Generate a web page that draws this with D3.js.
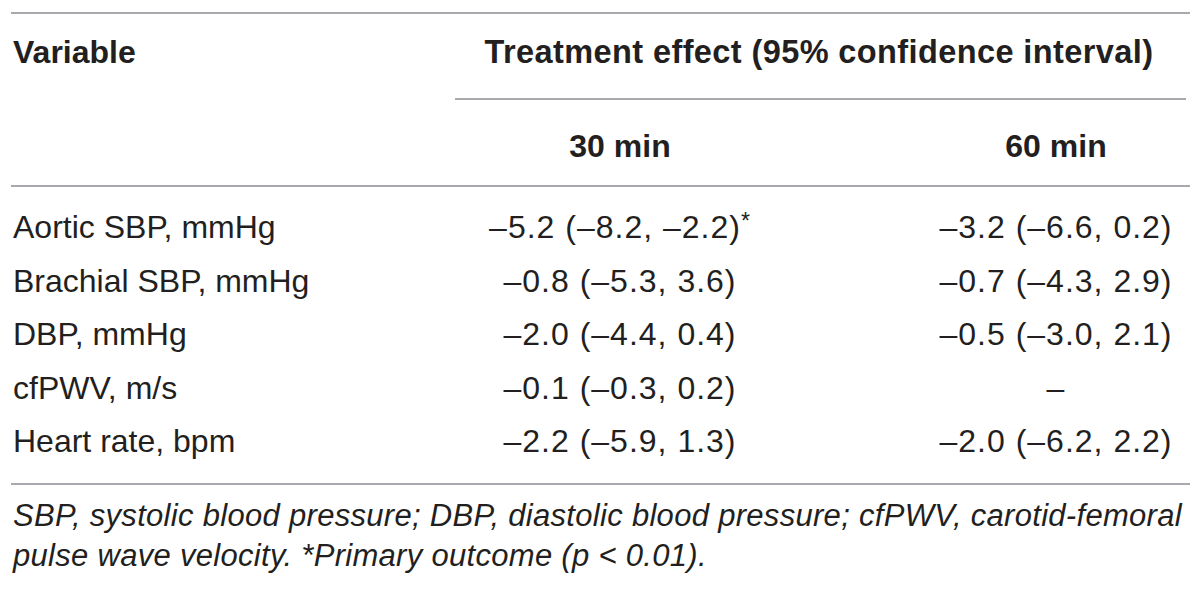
<!DOCTYPE html>
<html>
<head>
<meta charset="utf-8">
<script src="https://cdn.jsdelivr.net/npm/d3@7"></script>
<style>
  body { margin: 0; background: #fff; }
  text { font-family: "Liberation Sans", Arial, Helvetica, sans-serif; fill: #231f20; }
</style>
</head>
<body>
<div id="app"></div>
<script>
'use strict'
const width = 1200
const height = 589

// table content
const variables = ['Aortic SBP, mmHg', 'Brachial SBP, mmHg', 'DBP, mmHg', 'cfPWV, m/s', 'Heart rate, bpm']
const timepoints = ['30 min', '60 min']
const est30 = [-5.2, -0.8, -2.0, -0.1, -2.2]
const lo30 = [-8.2, -5.3, -4.4, -0.3, -5.9]
const hi30 = [-2.2, 3.6, 0.4, 0.2, 1.3]
const est60 = [-3.2, -0.7, -0.5, null, -2.0]
const lo60 = [-6.6, -4.3, -3.0, null, -6.2]
const hi60 = [0.2, 2.9, 2.1, null, 2.2]
const primary30 = [true, false, false, false, false]
const footnotes = [
  'SBP, systolic blood pressure; DBP, diastolic blood pressure; cfPWV, carotid-femoral',
  'pulse wave velocity. *Primary outcome (p < 0.01).'
]

const f = d3.format('.1f')
const num = v => f(v).replace(/[-\u2212]/g, '\u2013')
const cell = (e, l, h) => e == null ? '\u2013' : `${num(e)} (${num(l)}, ${num(h)})`

const svg = d3.select('#app').append('svg')
  .attr('width', width)
  .attr('height', height)

const x = d3.scaleOrdinal()
  .domain(['Variable', ...timepoints])
  .range([13, 620, 1056])

const y = d3.scalePoint()
  .domain(variables)
  .range([238, 452])

const lineColor = '#a7a9ac'
const hline = (x1, x2, yy) => svg.append('line')
  .attr('x1', x1).attr('x2', x2)
  .attr('y1', yy).attr('y2', yy)
  .style('stroke', lineColor)
  .style('stroke-width', 2)

hline(11, 1190, 13)
hline(455, 1186, 99)
hline(11, 1190, 186)
hline(11, 1190, 484)

// header
svg.append('text')
  .attr('x', x('Variable')).attr('y', 63)
  .style('font-size', '32px').style('font-weight', 'bold')
  .text('Variable')

svg.append('text')
  .attr('x', 819).attr('y', 63)
  .attr('text-anchor', 'middle')
  .style('font-size', '32.5px').style('font-weight', 'bold')
  .style('letter-spacing', '0.4px')
  .text('Treatment effect (95% confidence interval)')

svg.selectAll('.tp')
  .data(timepoints)
  .enter().append('text')
  .attr('class', 'tp')
  .attr('x', d => x(d)).attr('y', 157)
  .attr('text-anchor', 'middle')
  .style('font-size', '32px').style('font-weight', 'bold')
  .text(d => d)

// body rows
const rows = variables.map((v, i) => ({ v, i }))

svg.selectAll('.var')
  .data(rows)
  .enter().append('text')
  .attr('class', 'var')
  .attr('x', x('Variable'))
  .attr('y', d => y(d.v))
  .style('font-size', '32px')
  .text(d => d.v)

const c30 = svg.selectAll('.c30')
  .data(rows)
  .enter().append('text')
  .attr('class', 'c30')
  .attr('x', x('30 min'))
  .attr('y', d => y(d.v))
  .attr('text-anchor', 'middle')
  .style('font-size', '32px')
  .style('letter-spacing', '1px')

c30.append('tspan').text(d => cell(est30[d.i], lo30[d.i], hi30[d.i]))
c30.filter(d => primary30[d.i])
  .append('tspan')
  .attr('dy', -9)
  .style('font-size', '23px')
  .text('*')

svg.selectAll('.c60')
  .data(rows)
  .enter().append('text')
  .attr('class', 'c60')
  .attr('x', x('60 min'))
  .attr('y', d => y(d.v))
  .attr('text-anchor', 'middle')
  .style('font-size', '32px')
  .style('letter-spacing', '1px')
  .text(d => cell(est60[d.i], lo60[d.i], hi60[d.i]))

// footnote
svg.selectAll('.fn')
  .data(footnotes)
  .enter().append('text')
  .attr('class', 'fn')
  .attr('x', 13)
  .attr('y', (d, i) => 526 + i * 40)
  .style('font-size', '31px')
  .style('font-style', 'italic')
  .style('letter-spacing', '0.3px')
  .text(d => d)
</script>
</body>
</html>
